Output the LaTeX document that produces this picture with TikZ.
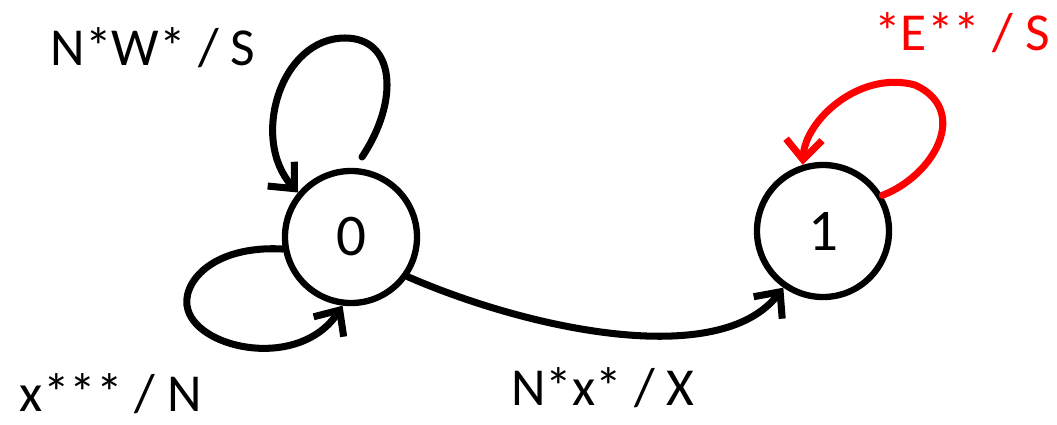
\documentclass[tikz,border=0pt]{standalone}
\usepackage{fontspec}
\setmainfont{Carlito}
\usetikzlibrary{arrows.meta}
\begin{document}
\begin{tikzpicture}[x=0.025cm,y=-0.025cm,
    state/.style={circle,draw,line width=4.5pt,minimum size=3.3cm,inner sep=0pt,font=\fontsize{42}{48}\selectfont},
    trans/.style={line width=5pt,line cap=round,-{Straight Barb[length=5mm,width=9mm]}},
    lbl/.style={anchor=base,inner sep=0pt,font=\fontsize{38}{44}\selectfont}]
            \useasboundingbox (0,0) rectangle (1057,424);
            \node[state] (s0) at (351,237) {0};
            \node[state] (s1) at (823,231) {1};
            \coordinate (s0top) at (362,157);
            % self loops on state 0
            \draw[trans] (s0top) .. controls (400,100) and (395,38) .. (345,38) .. controls (280,38) and (250,140) .. (s0.140);
            \draw[trans] (s0.190) .. controls (210,245) and (180,285) .. (188,310) .. controls (200,350) and (300,370) .. (s0.263);
            % 0 to 1
            \draw[trans] (s0.-35) .. controls (530,330) and (720,370) .. (s1.235);
            % self loop on state 1
            \draw[trans,draw=red] (s1.31) .. controls (935,175) and (970,110) .. (915,85) .. controls (860,70) and (805,120) .. (s1.107);
            \node[lbl] (lnw) at (153,65) {N*W* / S};
            \node[lbl] (lx) at (111,411) {x*** / N};
            \node[lbl] (lnx) at (603,405) {N*x* / X};
            \node[lbl,text=red] (le) at (962,50) {*E** / S};
\end{tikzpicture}
\end{document}
